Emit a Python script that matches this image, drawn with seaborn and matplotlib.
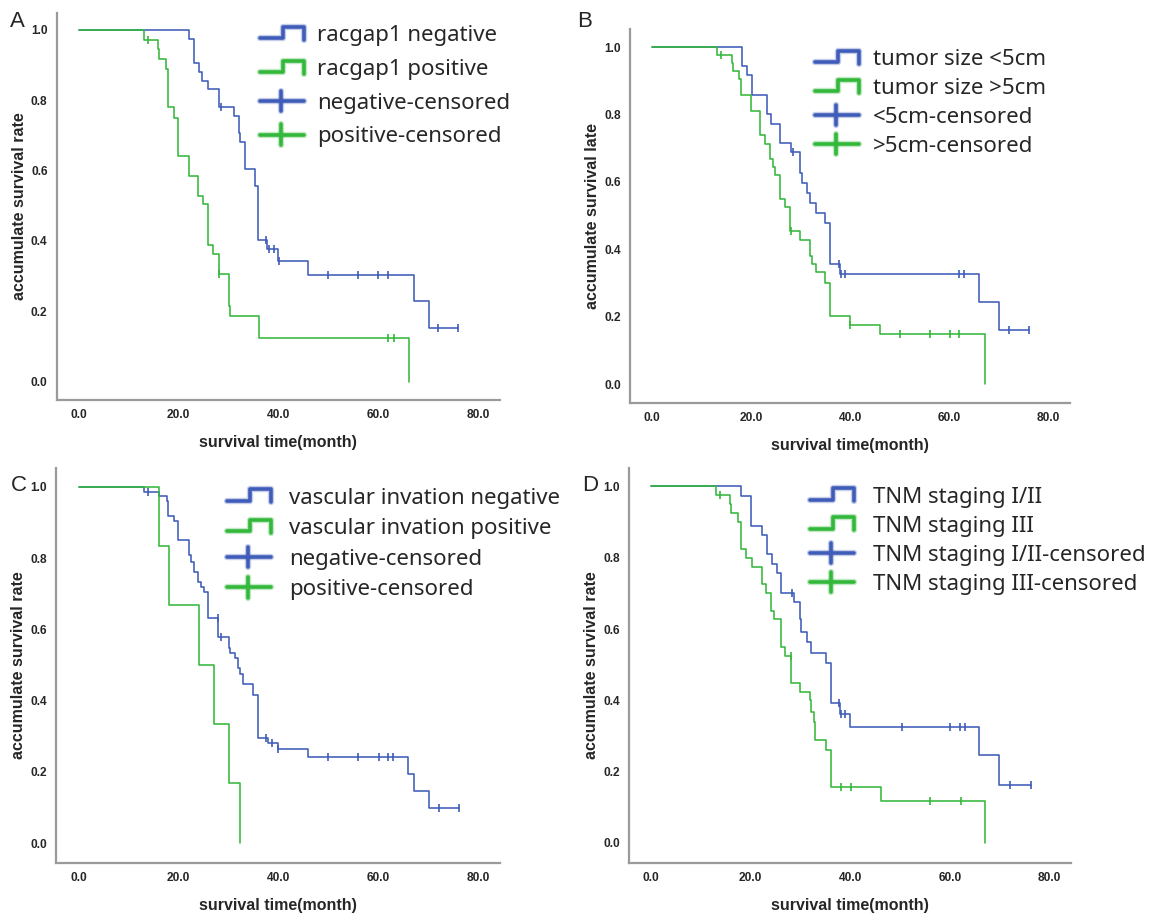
import numpy as np
import matplotlib
matplotlib.use('Agg')
import matplotlib.pyplot as plt
from matplotlib.legend_handler import HandlerBase
from matplotlib.lines import Line2D
import seaborn as sns

BLUE = '#3f5cb8'
GREEN = '#34b83c'

#--------------------------------------------------
# panel A: racgap1
a_neg_t = [0, 22, 23.1, 24.1, 24.6, 25.8, 28, 31.1, 32, 32.3, 33.2, 35.2, 35.9, 37.7, 39.9, 46, 67.2, 70.1, 76]
a_neg_s = [1, 0.975, 0.905, 0.881, 0.855, 0.831, 0.782, 0.756, 0.706, 0.68, 0.605, 0.555, 0.404, 0.378, 0.343, 0.304, 0.229, 0.153, 0.153]
a_neg_c = [28.4, 37.5, 38.1, 39, 40, 50, 56, 60, 62, 72, 76]
a_pos_t = [0, 13, 15.9, 16.1, 17.4, 17.8, 19, 19.9, 22, 23.9, 24.9, 25.9, 26.9, 28, 30, 30.2, 36, 66.2]
a_pos_s = [1, 0.972, 0.945, 0.917, 0.889, 0.78, 0.751, 0.641, 0.586, 0.529, 0.504, 0.39, 0.362, 0.307, 0.215, 0.186, 0.123, 0.0]
a_pos_c = [13.9, 28.1, 62, 63.1]

# panel B: tumor size
b_neg_t = [0, 18.1, 19.2, 20.1, 23.1, 24, 25.9, 28, 29.9, 30.3, 31.2, 31.9, 33.1, 35, 36, 37.9, 66, 70, 76.2]
b_neg_s = [1, 0.944, 0.916, 0.859, 0.801, 0.771, 0.715, 0.688, 0.626, 0.597, 0.567, 0.538, 0.508, 0.478, 0.357, 0.326, 0.243, 0.162, 0.162]
b_neg_c = [28.5, 37.7, 38.1, 39, 62, 63, 72.1, 76.2]
b_pos_t = [0, 13, 16.1, 16.4, 17.5, 17.9, 19.9, 21.8, 22.8, 23.8, 24.4, 24.9, 25.9, 26.9, 27.9, 29.9, 31.9, 32.3, 33, 34.9, 36, 39.9, 46, 67.2]
b_pos_s = [1, 0.976, 0.952, 0.929, 0.904, 0.859, 0.81, 0.738, 0.713, 0.669, 0.645, 0.62, 0.548, 0.524, 0.453, 0.428, 0.38, 0.356, 0.332, 0.301, 0.201, 0.176, 0.148, 0.0]
b_pos_c = [14, 28, 40, 50.1, 56.1, 60.2, 62]

# panel C: vascular invation
c_neg_t = [0, 13.05, 16.1, 17.6, 17.9, 19.1, 19.9, 22, 22.4, 23, 23.9, 24.5, 25, 25.9, 27.9, 30.1, 30.2, 31.2, 31.9, 32.3, 32.9, 35, 35.9, 37.9, 39.9, 46, 66, 67.1, 70.1, 76.1]
c_neg_s = [1, 0.986, 0.973, 0.96, 0.918, 0.904, 0.85, 0.81, 0.79, 0.76, 0.734, 0.72, 0.705, 0.633, 0.578, 0.549, 0.533, 0.52, 0.492, 0.474, 0.446, 0.415, 0.295, 0.28, 0.263, 0.242, 0.194, 0.145, 0.097, 0.097]
c_neg_c = [13.9, 27.8, 28.4, 37.6, 38.8, 40, 50, 56, 60.2, 62, 62.9, 72.2, 76.1]
c_pos_t = [0, 16.1, 18, 24, 27, 30.1, 32.3]
c_pos_s = [1, 0.834, 0.668, 0.501, 0.334, 0.168, 0.0]
c_pos_c = []

# panel D: TNM staging
d_neg_t = [0, 18.1, 20, 22.2, 23.3, 24.2, 25.2, 26.1, 28.6, 29.9, 30.2, 31.3, 32.1, 35.1, 36.2, 37.9, 40, 65.9, 69.9, 76.2]
d_neg_s = [1, 0.972, 0.889, 0.864, 0.811, 0.783, 0.756, 0.702, 0.677, 0.627, 0.592, 0.564, 0.533, 0.505, 0.393, 0.363, 0.325, 0.246, 0.164, 0.164]
d_neg_c = [28.3, 37.8, 38.2, 39, 50.3, 60, 62, 63, 72.1, 76.2]
d_pos_t = [0, 13, 15.8, 16.1, 17.5, 18.1, 19.1, 20.2, 22.2, 23.1, 24.1, 24.7, 26.1, 26.9, 28.1, 30, 31.9, 32.2, 32.7, 33, 35.1, 36.2, 46.2, 67]
d_pos_s = [1, 0.977, 0.951, 0.925, 0.899, 0.825, 0.80, 0.775, 0.725, 0.70, 0.651, 0.627, 0.55, 0.525, 0.449, 0.424, 0.40, 0.367, 0.34, 0.29, 0.262, 0.158, 0.119, 0.0]
d_pos_c = [13.9, 28, 38.2, 40.1, 56, 62.1]

a_labels = ['racgap1 negative', 'racgap1 positive', 'negative-censored', 'positive-censored']
b_labels = ['tumor size <5cm', 'tumor size >5cm', '<5cm-censored', '>5cm-censored']
c_labels = ['vascular invation negative', 'vascular invation positive', 'negative-censored', 'positive-censored']
d_labels = ['TNM staging I/II', 'TNM staging III', 'TNM staging I/II-censored', 'TNM staging III-censored']

ylabels = ['accumulate survival rate', 'accumulate survival late', 'accumulate survival rate', 'accumulate survival rate']


#--------------------------------------------------
class StepKey:
    def __init__(self, color):
        self.color = color


class CensorKey:
    def __init__(self, color):
        self.color = color


class StepHandler(HandlerBase):
    def create_artists(self, legend, orig_handle, xdescent, ydescent, width, height, fontsize, trans):
        x0 = -xdescent
        yc = -ydescent + 0.5 * height
        h = 0.42 * height
        xm = x0 + 0.52 * width
        xs = [x0, xm, xm, x0 + width, x0 + width]
        ys = [yc - 0.75 * h, yc - 0.75 * h, yc + h, yc + h, yc - h]
        halo = Line2D(xs, ys, color = orig_handle.color, lw = 4.6, alpha = 0.3, transform = trans)
        main = Line2D(xs, ys, color = orig_handle.color, lw = 2.6, transform = trans)
        return [halo, main]


class CensorHandler(HandlerBase):
    def create_artists(self, legend, orig_handle, xdescent, ydescent, width, height, fontsize, trans):
        x0 = -xdescent
        yc = -ydescent + 0.5 * height
        xm = x0 + 0.48 * width
        h = 0.65 * height
        arts = []
        for lw, al in [(4.6, 0.3), (2.6, 1.0)]:
            arts.append(Line2D([x0, x0 + width], [yc, yc], color = orig_handle.color, lw = lw, alpha = al, transform = trans))
            arts.append(Line2D([xm, xm], [yc - h, yc + h], color = orig_handle.color, lw = lw, alpha = al, transform = trans))
        return arts


#--------------------------------------------------
def censor_y(times, surv, cens):
    idx = np.searchsorted(times, cens, side = 'right') - 1
    return np.asarray(surv)[idx]


def draw_panel(ax, curves, labels, ylabel, xlim, ylim, leg_pos, leg_space, text_pad):
    for t, s, c, col in curves:
        sns.lineplot(x = t, y = s, ax = ax, color = col, lw = 1.15, drawstyle = 'steps-post',
                     estimator = None, sort = False)
        if len(c):
            sns.scatterplot(x = c, y = censor_y(t, s, c), ax = ax, marker = '|', s = 30,
                            color = col, linewidth = 1.2, zorder = 3)
    ax.set_xlim(*xlim)
    ax.set_ylim(*ylim)
    ax.set_xticks([0, 20, 40, 60, 80])
    ax.set_xticklabels(['0.0', '20.0', '40.0', '60.0', '80.0'])
    ax.set_yticks([0, 0.2, 0.4, 0.6, 0.8, 1.0])
    ax.set_yticklabels(['0.0', '0.2', '0.4', '0.6', '0.8', '1.0'])
    for lab in ax.get_xticklabels() + ax.get_yticklabels():
        lab.set_family(['Liberation Sans Narrow', 'Liberation Sans', 'DejaVu Sans'])
        lab.set_fontweight('bold')
        lab.set_fontsize(8.6)
    ax.tick_params(direction = 'out', length = 5, width = 1, color = '#333333', pad = 1.5)
    for sp in ['top', 'right']:
        ax.spines[sp].set_visible(False)
    for sp in ['left', 'bottom']:
        ax.spines[sp].set_color('#9a9a9a')
        ax.spines[sp].set_linewidth(1.6)
    ax.set_xlabel('survival time(month)', fontsize = 11.5, fontweight = 'bold', family = 'Liberation Sans', labelpad = 10)
    ax.set_ylabel(ylabel, fontsize = 11.5, fontweight = 'bold', family = 'Liberation Sans', labelpad = 3)

    handles = [StepKey(BLUE), StepKey(GREEN), CensorKey(BLUE), CensorKey(GREEN)]
    ax.legend(handles, labels, loc = 'upper left', bbox_to_anchor = leg_pos, bbox_transform = ax.transData,
              frameon = False, handler_map = {StepKey: StepHandler(), CensorKey: CensorHandler()},
              prop = {'family': 'Noto Sans', 'size': 16}, handlelength = 2.0, handletextpad = text_pad,
              labelspacing = leg_space, borderpad = 0, borderaxespad = 0)


#--------------------------------------------------
def main():
    sns.set_style('white')
    fig = plt.figure(figsize = (11.56, 9.13), dpi = 100)

    axA = fig.add_axes([0.0489, 0.5619, 0.3832, 0.4242])
    axB = fig.add_axes([0.5450, 0.5586, 0.3806, 0.4091])
    axC = fig.add_axes([0.0484, 0.0548, 0.3840, 0.4326])
    axD = fig.add_axes([0.5441, 0.0548, 0.3824, 0.4326])

    draw_panel(axA, [(a_neg_t, a_neg_s, a_neg_c, BLUE), (a_pos_t, a_pos_s, a_pos_c, GREEN)],
               a_labels, ylabels[0], (-4.5, 84.3), (-0.052, 1.049), (36.2, 1.013), 0.57, 0.6)
    draw_panel(axB, [(b_neg_t, b_neg_s, b_neg_c, BLUE), (b_pos_t, b_pos_s, b_pos_c, GREEN)],
               b_labels, ylabels[1], (-4.47, 84.4), (-0.056, 1.052), (32.8, 0.994), 0.36, 0.63)
    draw_panel(axC, [(c_neg_t, c_neg_s, c_neg_c, BLUE), (c_pos_t, c_pos_s, c_pos_c, GREEN)],
               c_labels, ylabels[2], (-4.57, 84.35), (-0.056, 1.053), (29.7, 0.998), 0.43, 0.8)
    draw_panel(axD, [(d_neg_t, d_neg_s, d_neg_c, BLUE), (d_pos_t, d_pos_s, d_pos_c, GREEN)],
               d_labels, ylabels[3], (-4.4, 84.26), (-0.056, 1.0515), (31.9, 0.999), 0.36, 0.85)

    for letter, x, y in [('A', 0.009, 0.988), ('B', 0.499, 0.988), ('C', 0.009, 0.480), ('D', 0.504, 0.480)]:
        fig.text(x, y, letter, fontsize = 16, family = 'Liberation Sans', va = 'top', ha = 'left')

    fig.savefig('out.png', dpi = 100)


#--------------------------------------------------
if __name__ == '__main__':
    main()
